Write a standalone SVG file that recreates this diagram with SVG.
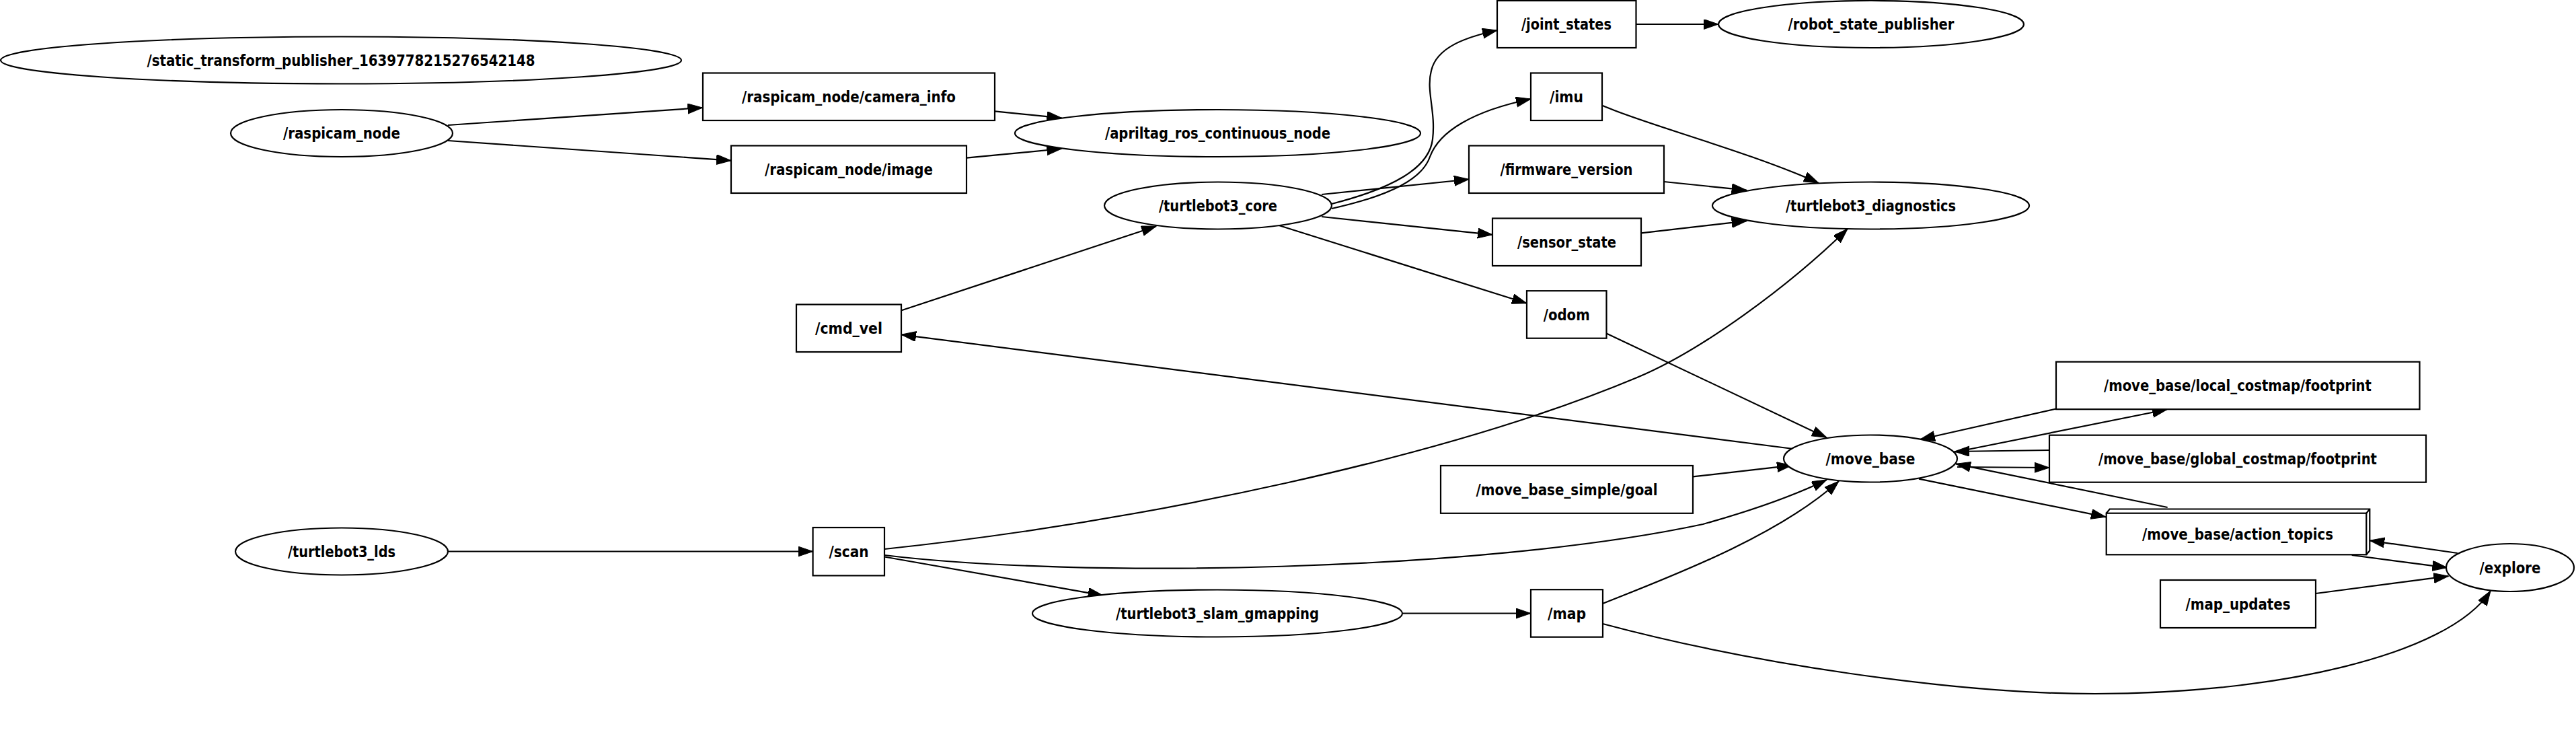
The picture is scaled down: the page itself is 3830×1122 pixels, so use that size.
<svg xmlns="http://www.w3.org/2000/svg" width="3830" height="1122" viewBox="0 0 3830 1122">
<style>
.n ellipse,.n rect,.n polyline,.n line{fill:#fff;stroke:#000;stroke-width:2.2}
.n polyline,.n line{fill:none}
text{font-family:"DejaVu Sans Condensed","DejaVu Sans",sans-serif;font-stretch:condensed;font-weight:bold;font-size:23px;text-anchor:middle;fill:#000}
.e path{fill:none;stroke:#000;stroke-width:2.2;marker-end:url(#ah)}
</style>
<defs>
<marker id="ah" markerUnits="userSpaceOnUse" markerWidth="24" markerHeight="16" refX="22" refY="7.5" orient="auto">
<path d="M0,0 L22,7.5 L0,15 z" fill="#000" stroke="#000" stroke-width="1"/>
</marker>
</defs>
<rect x="0" y="0" width="3830" height="1122" fill="#fff"/>
<g id="edges" class="e">
<path d="M666,186 L1044.5,160"/>
<path d="M666,209 L1087,238.6"/>
<path d="M1479,165.3 L1578.5,175.3"/>
<path d="M1437,234.7 L1578.5,221"/>
<path d="M1339.7,461.5 L1719,336.3"/>
<path d="M2666,667 L1340,497.3"/>
<path d="M1980,303 C2070,280 2125,250 2130,207 C2135,165 2120,135 2128,105 C2136,70 2180,55 2226,45"/>
<path d="M1980,310 C2070,290 2115,265 2126,233 C2140,195 2190,165 2276,147"/>
<path d="M2432.5,36 L2555,36"/>
<path d="M2383,157 C2440,183 2600,225 2704,272"/>
<path d="M2474,270 L2596.7,282.6"/>
<path d="M2440,346.4 L2596.7,328.4"/>
<path d="M1965,289 L2184,266.5"/>
<path d="M1965,322 L2219,348.8"/>
<path d="M1900,334.5 L2270,450.8"/>
<path d="M2388.5,495.5 L2716,650.4"/>
<path d="M1315,816 C1700,775 2150,680 2434,561 C2530,521 2660,425 2747,340"/>
<path d="M1315,825 C1600,860 2200,850 2532,779 C2600,760 2660,740 2716,713"/>
<path d="M2383,897 C2470,862 2640,800 2734,715"/>
<path d="M2517,708.4 L2664,691.6"/>
<path d="M3057,607.5 L2855,653"/>
<path d="M2906,672 L3222,608.5"/>
<path d="M3047,669 L2906,671"/>
<path d="M2910,694 L3047,695"/>
<path d="M3222.7,754 L2908,689.3"/>
<path d="M2853,711.7 L3131,768.3"/>
<path d="M3496.7,825 L3638.5,843.6"/>
<path d="M3653.8,822 L3523.3,803.3"/>
<path d="M3443,882 L3640.4,856.2"/>
<path d="M2383,927 C2600,985 2900,1031 3115,1031 C3380,1031 3640,975 3703,878"/>
<path d="M666,819.5 L1208.6,819.5"/>
<path d="M1315,827.5 L1639.7,884.8"/>
<path d="M2085,911.5 L2276,911.5"/>
</g>
<g id="static_transform_publisher" class="n"><ellipse cx="507" cy="89.5" rx="506" ry="35"/><text x="507" y="97.5" textLength="577" lengthAdjust="spacingAndGlyphs">/static_transform_publisher_1639778215276542148</text></g>
<g id="raspicam_node" class="n"><ellipse cx="508" cy="198" rx="165" ry="35"/><text x="508" y="206" textLength="174" lengthAdjust="spacingAndGlyphs">/raspicam_node</text></g>
<g id="camera_info" class="n"><rect x="1045" y="108.5" width="434" height="70.5"/><text x="1262" y="151.7" textLength="318" lengthAdjust="spacingAndGlyphs">/raspicam_node/camera_info</text></g>
<g id="image" class="n"><rect x="1087" y="216.5" width="350" height="70.5"/><text x="1262" y="259.7" textLength="250" lengthAdjust="spacingAndGlyphs">/raspicam_node/image</text></g>
<g id="apriltag_ros_continuous_node" class="n"><ellipse cx="1810.5" cy="198" rx="301.5" ry="35"/><text x="1810.5" y="206" textLength="335" lengthAdjust="spacingAndGlyphs">/apriltag_ros_continuous_node</text></g>
<g id="turtlebot3_core" class="n"><ellipse cx="1811" cy="305.5" rx="169" ry="35"/><text x="1811" y="313.5" textLength="176" lengthAdjust="spacingAndGlyphs">/turtlebot3_core</text></g>
<g id="cmd_vel" class="n"><rect x="1184" y="452.5" width="156" height="70.5"/><text x="1262" y="495.7" textLength="100" lengthAdjust="spacingAndGlyphs">/cmd_vel</text></g>
<g id="joint_states" class="n"><rect x="2226" y="1" width="206.5" height="70"/><text x="2329" y="44" textLength="134" lengthAdjust="spacingAndGlyphs">/joint_states</text></g>
<g id="robot_state_publisher" class="n"><ellipse cx="2782" cy="36" rx="227" ry="35"/><text x="2782" y="44" textLength="247" lengthAdjust="spacingAndGlyphs">/robot_state_publisher</text></g>
<g id="imu" class="n"><rect x="2276" y="108.5" width="106" height="70.5"/><text x="2329" y="151.7" textLength="50" lengthAdjust="spacingAndGlyphs">/imu</text></g>
<g id="firmware_version" class="n"><rect x="2184" y="216.5" width="290" height="70.5"/><text x="2329" y="259.7" textLength="197" lengthAdjust="spacingAndGlyphs">/firmware_version</text></g>
<g id="turtlebot3_diagnostics" class="n"><ellipse cx="2781.5" cy="305.5" rx="235.5" ry="35"/><text x="2781.5" y="313.5" textLength="253" lengthAdjust="spacingAndGlyphs">/turtlebot3_diagnostics</text></g>
<g id="sensor_state" class="n"><rect x="2219" y="324.5" width="221" height="70.5"/><text x="2329.5" y="367.7" textLength="147" lengthAdjust="spacingAndGlyphs">/sensor_state</text></g>
<g id="odom" class="n"><rect x="2270" y="432.2" width="118.5" height="70.5"/><text x="2329.2" y="475.5" textLength="69" lengthAdjust="spacingAndGlyphs">/odom</text></g>
<g id="local_costmap_footprint" class="n"><rect x="3057" y="537.7" width="540.5" height="70.5"/><text x="3327" y="581" textLength="398" lengthAdjust="spacingAndGlyphs">/move_base/local_costmap/footprint</text></g>
<g id="global_costmap_footprint" class="n"><rect x="3047" y="646.7" width="560" height="70"/><text x="3327" y="689.7" textLength="414" lengthAdjust="spacingAndGlyphs">/move_base/global_costmap/footprint</text></g>
<g id="move_base" class="n"><ellipse cx="2781" cy="681.5" rx="129" ry="35"/><text x="2781" y="689.5" textLength="133" lengthAdjust="spacingAndGlyphs">/move_base</text></g>
<g id="move_base_simple_goal" class="n"><rect x="2142" y="692" width="375" height="70.8"/><text x="2329.5" y="735.5" textLength="270" lengthAdjust="spacingAndGlyphs">/move_base_simple/goal</text></g>
<g id="action_topics" class="n"><polyline points="3131.7,762.7 3136.7,756.5 3523.3,756.5 3523.3,818.3 3518.3,824.3"/><line x1="3518.3" y1="762.7" x2="3523.3" y2="756.5"/><rect x="3131.7" y="762.7" width="386.6" height="61.6"/><text x="3327" y="801.5" textLength="284" lengthAdjust="spacingAndGlyphs">/move_base/action_topics</text></g>
<g id="explore" class="n"><ellipse cx="3732" cy="843.5" rx="95" ry="35.5"/><text x="3732" y="851.5" textLength="91" lengthAdjust="spacingAndGlyphs">/explore</text></g>
<g id="map_updates" class="n"><rect x="3212" y="862" width="231" height="71"/><text x="3327.5" y="905.5" textLength="156" lengthAdjust="spacingAndGlyphs">/map_updates</text></g>
<g id="turtlebot3_lds" class="n"><ellipse cx="508" cy="819.5" rx="158" ry="35"/><text x="508" y="827.5" textLength="160" lengthAdjust="spacingAndGlyphs">/turtlebot3_lds</text></g>
<g id="scan" class="n"><rect x="1208.6" y="784" width="106.4" height="71.4"/><text x="1262" y="827.7" textLength="59" lengthAdjust="spacingAndGlyphs">/scan</text></g>
<g id="turtlebot3_slam_gmapping" class="n"><ellipse cx="1810" cy="911.5" rx="275" ry="35"/><text x="1810" y="919.5" textLength="302" lengthAdjust="spacingAndGlyphs">/turtlebot3_slam_gmapping</text></g>
<g id="map" class="n"><rect x="2276" y="876.2" width="107" height="70.5"/><text x="2329.5" y="919.5" textLength="57" lengthAdjust="spacingAndGlyphs">/map</text></g>
</svg>
